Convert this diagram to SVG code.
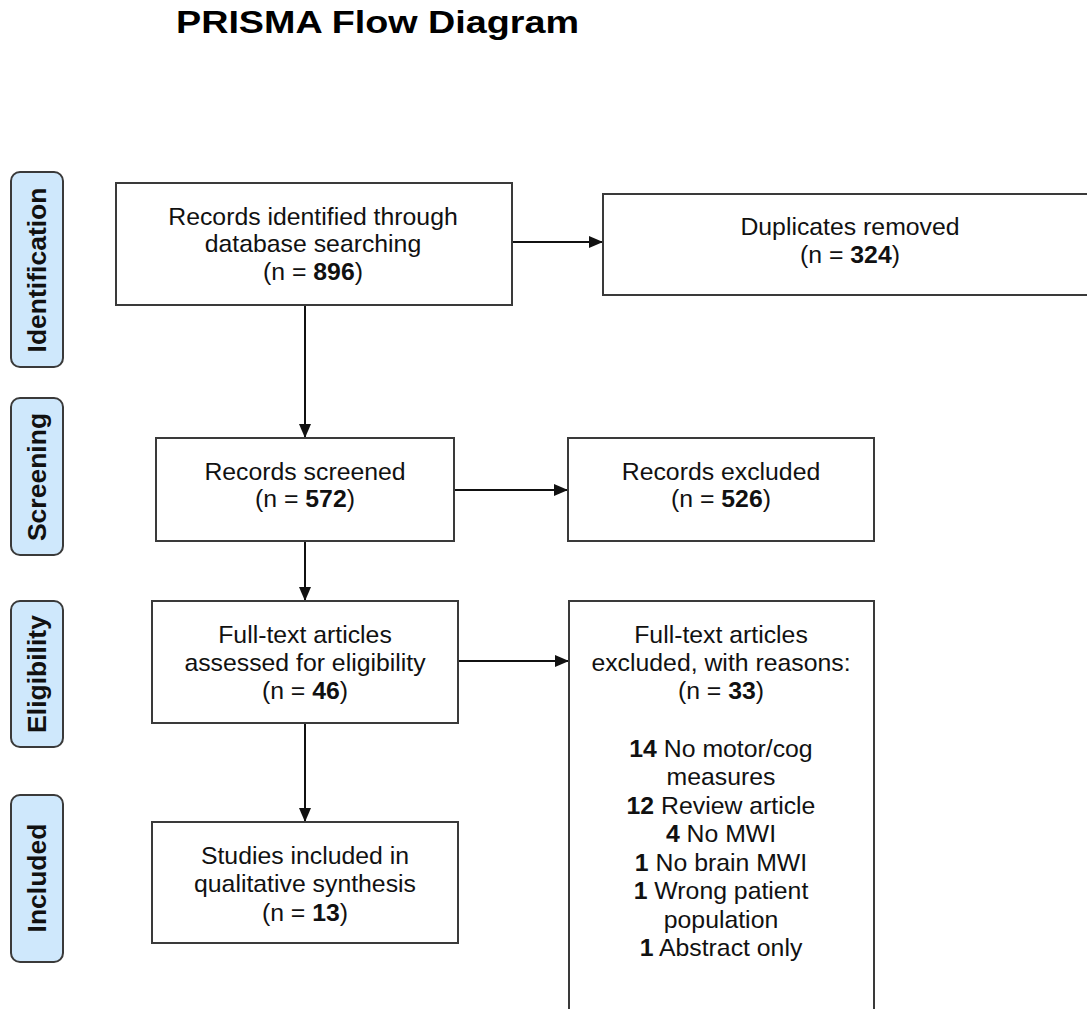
<svg xmlns="http://www.w3.org/2000/svg" width="1087" height="1009" viewBox="0 0 1087 1009">
  <style>
    .box { fill: #ffffff; stroke: #3a3a3a; stroke-width: 2; }
    .phase { fill: #cfe8fc; stroke: #3a3a3a; stroke-width: 2; }
    .t { font-family: "Liberation Sans", Arial, sans-serif; font-size: 24.8px; fill: #111; text-anchor: middle; }
    .ph { font-family: "Liberation Sans", Arial, sans-serif; font-size: 26.5px; font-weight: bold; fill: #111; text-anchor: middle; }
    .title { font-family: "Liberation Sans", Arial, sans-serif; font-size: 31px; font-weight: bold; fill: #000; }
    .link { stroke: #111; stroke-width: 2; fill: none; marker-end: url(#arrow); }
    .b { font-weight: bold; }
  </style>
  <defs>
    <marker id="arrow" viewBox="0 0 14 12" refX="14" refY="6" markerWidth="14" markerHeight="12" markerUnits="userSpaceOnUse" orient="auto">
      <path d="M0,0 L14,6 L0,12 z" fill="#111"/>
    </marker>
  </defs>
  <rect width="1087" height="1009" fill="#ffffff"/>

  <text class="title" x="176" y="33" textLength="403" lengthAdjust="spacingAndGlyphs">PRISMA Flow Diagram</text>

  <!-- phase labels -->
  <g id="phase-identification">
    <rect class="phase" x="11" y="172" width="52" height="195" rx="9"/>
    <text class="ph" transform="translate(46,270) rotate(-90)">Identification</text>
  </g>
  <g id="phase-screening">
    <rect class="phase" x="11" y="398" width="52" height="157" rx="9"/>
    <text class="ph" transform="translate(46,477) rotate(-90)">Screening</text>
  </g>
  <g id="phase-eligibility">
    <rect class="phase" x="11" y="601" width="52" height="146" rx="9"/>
    <text class="ph" transform="translate(46,674) rotate(-90)">Eligibility</text>
  </g>
  <g id="phase-included">
    <rect class="phase" x="11" y="795" width="52" height="167" rx="9"/>
    <text class="ph" transform="translate(46,878) rotate(-90)">Included</text>
  </g>

  <!-- connectors -->
  <g id="connectors">
    <line class="link" x1="512" y1="242" x2="603" y2="242"/>
    <line class="link" x1="305" y1="305" x2="305" y2="438"/>
    <line class="link" x1="454" y1="490" x2="568" y2="490"/>
    <line class="link" x1="305" y1="541" x2="305" y2="601"/>
    <line class="link" x1="458" y1="661" x2="569" y2="661"/>
    <line class="link" x1="305" y1="723" x2="305" y2="822"/>
  </g>

  <!-- boxes -->
  <g id="identified">
    <rect class="box" x="116" y="183" width="396" height="122"/>
    <text class="t" x="313" y="225">Records identified through</text>
    <text class="t" x="313" y="252">database searching</text>
    <text class="t" x="313" y="280">(n = <tspan class="b">896</tspan>)</text>
  </g>
  <g id="duplicates">
    <rect class="box" x="603" y="194" width="490" height="101"/>
    <text class="t" x="850" y="235">Duplicates removed</text>
    <text class="t" x="850" y="263">(n = <tspan class="b">324</tspan>)</text>
  </g>
  <g id="screened">
    <rect class="box" x="156" y="438" width="298" height="103"/>
    <text class="t" x="305" y="480">Records screened</text>
    <text class="t" x="305" y="507">(n = <tspan class="b">572</tspan>)</text>
  </g>
  <g id="excluded">
    <rect class="box" x="568" y="438" width="306" height="103"/>
    <text class="t" x="721" y="480">Records excluded</text>
    <text class="t" x="721" y="507">(n = <tspan class="b">526</tspan>)</text>
  </g>
  <g id="fulltext">
    <rect class="box" x="152" y="601" width="306" height="122"/>
    <text class="t" x="305" y="643">Full-text articles</text>
    <text class="t" x="305" y="671">assessed for eligibility</text>
    <text class="t" x="305" y="699">(n = <tspan class="b">46</tspan>)</text>
  </g>
  <g id="fulltext-excluded">
    <rect class="box" x="569" y="601" width="305" height="420"/>
    <text class="t" x="721" y="643">Full-text articles</text>
    <text class="t" x="721" y="671">excluded, with reasons:</text>
    <text class="t" x="721" y="699">(n = <tspan class="b">33</tspan>)</text>
    <text class="t" x="721" y="757"><tspan class="b">14</tspan> No motor/cog</text>
    <text class="t" x="721" y="785">measures</text>
    <text class="t" x="721" y="814"><tspan class="b">12</tspan> Review article</text>
    <text class="t" x="721" y="842"><tspan class="b">4</tspan> No MWI</text>
    <text class="t" x="721" y="871"><tspan class="b">1</tspan> No brain MWI</text>
    <text class="t" x="721" y="899"><tspan class="b">1</tspan> Wrong patient</text>
    <text class="t" x="721" y="928">population</text>
    <text class="t" x="721" y="956"><tspan class="b">1</tspan> Abstract only</text>
  </g>
  <g id="included">
    <rect class="box" x="152" y="822" width="306" height="121"/>
    <text class="t" x="305" y="864">Studies included in</text>
    <text class="t" x="305" y="892">qualitative synthesis</text>
    <text class="t" x="305" y="921">(n = <tspan class="b">13</tspan>)</text>
  </g>
</svg>
